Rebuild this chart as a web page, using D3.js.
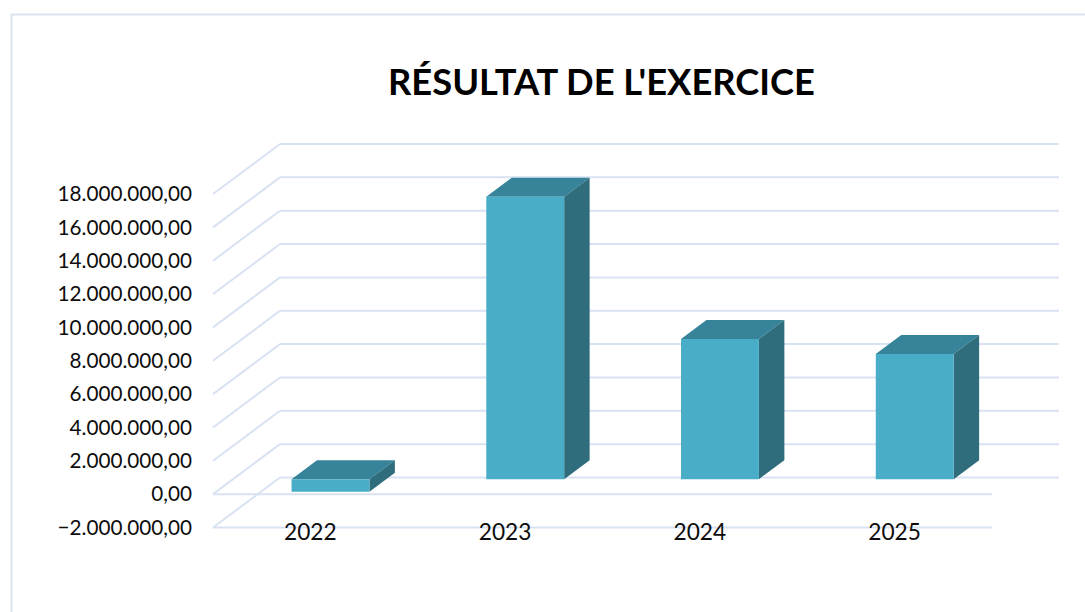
<!DOCTYPE html>
<meta charset="utf-8">
<style>
	html, body { margin: 0; padding: 0; background: #fff; }
	svg text { font-family: Lato, "Open Sans", sans-serif; fill: #0d0d0d; }
</style>
<body>
<script src="https://d3js.org/d3.v7.min.js"></script>
<script>

// Chart data
var years = ["2022", "2023", "2024", "2025"];
var results = [-760000, 16940000, 8400000, 7500000];
var tickValues = [-2000000, 0, 2000000, 4000000, 6000000, 8000000,
	10000000, 12000000, 14000000, 16000000, 18000000];
var chartTitle = "RÉSULTAT DE L'EXERCICE";

var width = 1085,
	height = 612;

// 3D look: depth offset of the back wall
var DX = 67,
	DY = 50;
var barFront = 0.3,
	barBack = 0.68;

var svg = d3.select("body").append("svg")
	.attr("width", width)
	.attr("height", height);

// Frame of the chart area
svg.append("rect")
	.attr("x", 11.5).attr("y", 14.5)
	.attr("width", 1100).attr("height", 700)
	.attr("fill", "none")
	.attr("stroke", "#dce4f2")
	.attr("stroke-width", 2);

var y = d3.scaleLinear()
	.domain([-2000000, 18000000])
	.range([527.5, 194]);

var x = d3.scaleBand()
	.domain(years)
	.range([213, 992])
	.paddingInner(0.6)
	.paddingOuter(0.3);

var fmt = function (v) {
	var s = d3.format(",.2f")(v);
	// french style: 1.000.000,00
	return s.replace(/,/g, "#").replace(".", ",").replace(/#/g, ".");
};

// projection of a point (front x, value, depth 0..1)
function proj(px, v, d) {
	return [px + d * DX, y(v) - d * DY];
}

var grid = svg.append("g")
	.attr("stroke", "#d9e2f3")
	.attr("stroke-width", 2)
	.attr("fill", "none");

// back wall lines
grid.selectAll(".back")
	.data(tickValues)
	.enter().append("line")
	.attr("x1", 213 + DX).attr("x2", 992 + DX)
	.attr("y1", d => y(d) - DY).attr("y2", d => y(d) - DY);

// side wall lines
grid.selectAll(".side")
	.data(tickValues)
	.enter().append("line")
	.attr("x1", 213).attr("x2", 213 + DX)
	.attr("y1", d => y(d)).attr("y2", d => y(d) - DY);

// floor edges in front
grid.selectAll(".floor")
	.data([-2000000, 0])
	.enter().append("line")
	.attr("x1", 213).attr("x2", 992)
	.attr("y1", d => y(d)).attr("y2", d => y(d));

// y labels
svg.append("g")
	.selectAll("text")
	.data(tickValues)
	.enter().append("text")
	.attr("x", 192)
	.attr("y", d => y(d) + 2)
	.attr("text-anchor", "end")
	.attr("dominant-baseline", "middle")
	.style("font-size", "20.7px")
	.text(d => fmt(d));

// category labels
svg.append("g")
	.selectAll("text")
	.data(years)
	.enter().append("text")
	.attr("x", d => x(d) + x.bandwidth() / 2)
	.attr("y", 540)
	.attr("text-anchor", "middle")
	.style("font-size", "22.7px")
	.text(d => d);

// bars
var bars = svg.append("g")
	.selectAll("g")
	.data(years.map((d, i) => ({ year: d, value: results[i] })))
	.enter().append("g");

function poly(pts) {
	return "M" + pts.map(p => p.join(",")).join("L") + "Z";
}

bars.append("path")
	.attr("fill", "#37849a")
	.attr("d", function (d) {
		var top = Math.max(d.value, 0);
		var x0 = x(d.year), x1 = x0 + x.bandwidth();
		return poly([proj(x0, top, barFront), proj(x1, top, barFront),
			proj(x1, top, barBack), proj(x0, top, barBack)]);
	});

bars.append("path")
	.attr("fill", "#2f6d7c")
	.attr("d", function (d) {
		var top = Math.max(d.value, 0), bot = Math.min(d.value, 0);
		var x1 = x(d.year) + x.bandwidth();
		return poly([proj(x1, top, barFront), proj(x1, top, barBack),
			proj(x1, bot, barBack), proj(x1, bot, barFront)]);
	});

bars.append("path")
	.attr("fill", "#4aadc7")
	.attr("d", function (d) {
		var top = Math.max(d.value, 0), bot = Math.min(d.value, 0);
		var x0 = x(d.year), x1 = x0 + x.bandwidth();
		return poly([proj(x0, top, barFront), proj(x1, top, barFront),
			proj(x1, bot, barFront), proj(x0, bot, barFront)]);
	});

// title, sized to span the same width as the original
var title = svg.append("text")
	.attr("x", 601.5)
	.attr("y", 95)
	.attr("text-anchor", "middle")
	.style("font-size", "29px")
	.style("font-weight", "bold")
	.style("fill", "#000")
	.text(chartTitle);
var len = title.node().getComputedTextLength();
title.style("font-size", (29 * 427 / len) + "px");

</script>
</body>
